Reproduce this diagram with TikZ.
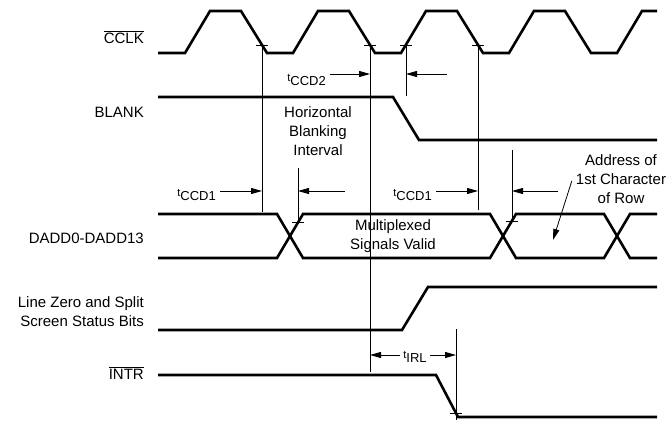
\documentclass[tikz,border=0pt]{standalone}
\usepackage{fontspec}
\setmainfont{Liberation Sans}
\usetikzlibrary{arrows.meta}
\newcommand{\tsym}[1]{{\fontsize{11}{11}\selectfont\raisebox{3pt}{t}}{\fontsize{13}{13}\selectfont\raisebox{-1pt}{#1}}}

\begin{document}
\begin{tikzpicture}[x=1pt, y=-1pt, >={Triangle[length=11pt,width=6pt]},
                    every node/.style={font=\fontsize{15}{19}\selectfont, inner sep=0pt},
                    wave/.style={line width=2.6pt},
                    edge/.style={line width=0.8pt}]
       \useasboundingbox (0,0) rectangle (669,422);

       % signal names
       \node[anchor=east] (cclk) at (144,37) {$\overline{\hbox{CCLK}}$};
       \node[anchor=east] (blank) at (144,112) {BLANK};
       \node[anchor=east] (dadd) at (144,238) {DADD0-DADD13};
       \node[anchor=east, align=right] (lzero) at (144,312) {Line Zero and Split\\Screen Status Bits};
       \node[anchor=east] (intr) at (144,373) {$\overline{\hbox{INTR}}$};

       % waveforms
       \draw[wave] (158,53) -- (185,53) -- (210,11) -- (241,11) -- (267,53) -- (293,53) -- (318,11) -- (349,11) -- (375,53)
                   -- (401,53) -- (426,11) -- (457,11) -- (483,53) -- (509,53) -- (534,11) -- (565,11) -- (591,53)
                   -- (617,53) -- (642,11) -- (657,11);
       \draw[wave] (158,97) -- (393,97) -- (419,140) -- (657,140);
       \draw[wave] (158,214) -- (277,214) -- (303,258) -- (490,258) -- (516,214) -- (604,214) -- (630,258) -- (657,258);
       \draw[wave] (158,258) -- (277,258) -- (303,214) -- (490,214) -- (516,258) -- (604,258) -- (630,214) -- (657,214);
       \draw[wave] (158,330) -- (402,330) -- (428,287) -- (657,287);
       \draw[wave] (158,375) -- (436,375) -- (458,417) -- (657,417);

       % reference edges
       \coordinate (e1) at (262,45);
       \coordinate (e2) at (370,45);
       \coordinate (e3) at (406,45);
       \coordinate (e4) at (478,45);
       \coordinate (d1) at (298,222);
       \coordinate (d2) at (512,221);
       \coordinate (i1) at (456,413);
       \draw[edge] (e1) -- (262,212);
       \draw[edge] (e2) -- (370,372);
       \draw[edge] (e3) -- (406,96);
       \draw[edge] (e4) -- (478,210);
       \draw[edge] (298,168) -- (d1);
       \draw[edge] (512,150) -- (d2);
       \draw[edge] (456,329) -- (456,420);
       \draw[edge] ([xshift=-6pt]e1) -- ([xshift=6pt]e1);
       \draw[edge] ([xshift=-6pt]e2) -- ([xshift=6pt]e2);
       \draw[edge] ([xshift=-6pt]e3) -- ([xshift=6pt]e3);
       \draw[edge] ([xshift=-6pt]e4) -- ([xshift=6pt]e4);
       \draw[edge] ([xshift=-6pt]d1) -- ([xshift=6pt]d1);
       \draw[edge] ([xshift=-6pt]d2) -- ([xshift=6pt]d2);
       \draw[edge] ([xshift=-6pt]i1) -- ([xshift=6pt]i1);

       % timing parameters
       \node[anchor=east] (tccd2) at (326,80) {\tsym{CCD2}};
       \draw[edge,->] ([xshift=4pt,yshift=6pt]tccd2.east) coordinate (s2) -- (s2 -| e2);
       \coordinate (f2) at (447,74);
       \draw[edge,->] (f2) -- (f2 -| e3);
       \node[anchor=east] (tccd1a) at (216,195) {\tsym{CCD1}};
       \draw[edge,->] ([xshift=4pt,yshift=4pt]tccd1a.east) coordinate (s1) -- (s1 -| e1);
       \coordinate (f1) at (345,191);
       \draw[edge,->] (f1) -- (f1 -| d1);
       \node[anchor=east] (tccd1b) at (432,195) {\tsym{CCD1}};
       \draw[edge,->] ([xshift=4pt,yshift=4pt]tccd1b.east) coordinate (s3) -- (s3 -| e4);
       \coordinate (f3) at (558,191);
       \draw[edge,->] (f3) -- (f3 -| d2);
       \node (tirl) at (415,357) {\tsym{IRL}};
       \draw[edge,->] ([xshift=-3pt,yshift=2pt]tirl.west) coordinate (s4) -- (s4 -| e2);
       \draw[edge,->] ([xshift=3pt,yshift=2pt]tirl.east) coordinate (s5) -- (s5 -| i1);

       % notes
       \node[align=center] (hbi) at (318,131) {Horizontal\\Blanking\\Interval};
       \node[align=center] (valid) at (393,236) {Multiplexed\\Signals Valid};
       \node[align=center] (addr) at (621,179) {Address of\\1st Character\\of Row};
       \draw[edge,->] ([xshift=-4pt,yshift=-2pt]addr.west) -- (553,240);
\end{tikzpicture}
\end{document}
